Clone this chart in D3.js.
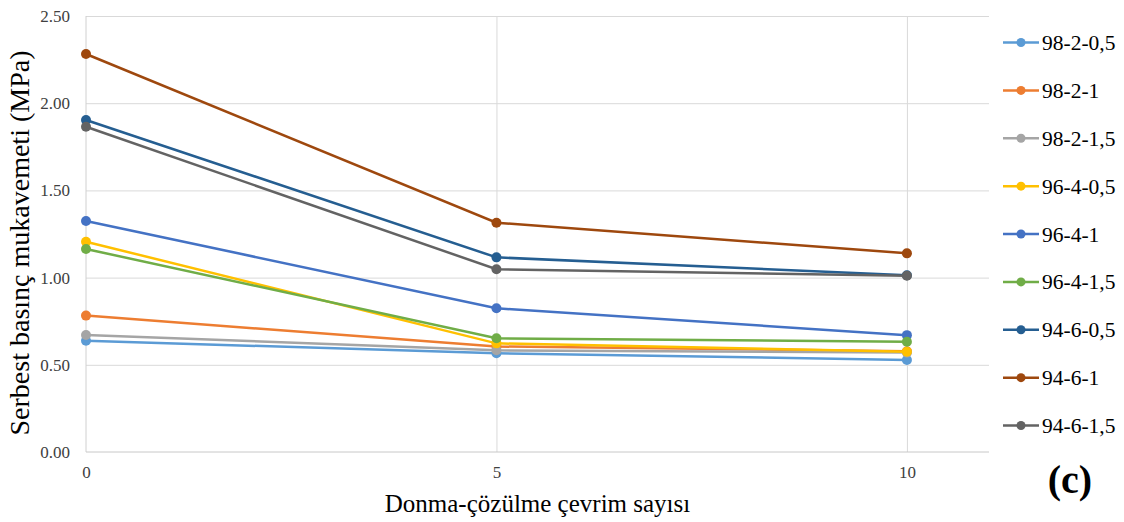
<!DOCTYPE html>
<html>
<head>
<meta charset="utf-8">
<script src="https://cdn.jsdelivr.net/npm/d3@7"></script>
<style>
  body { margin: 0; background: #fff; }
  svg { display: block; }
  text { font-family: 'Liberation Serif', 'Times New Roman', serif; fill: #000; }
  .grid line { stroke: #d9d9d9; stroke-width: 1; }
  .grid path { display: none; }
  .tick text { font-size: 17px; fill: #404040; }
</style>
</head>
<body>
<div id="chart"></div>
<script>
'use strict';
// Freeze-thaw cycles on x, unconfined compressive strength on y
const cycles = [0, 5, 10]
const seriesNames = ['98-2-0,5', '98-2-1', '98-2-1,5', '96-4-0,5', '96-4-1', '96-4-1,5', '94-6-0,5', '94-6-1', '94-6-1,5']
const seriesColors = ['#5b9bd5', '#ed7d31', '#a5a5a5', '#ffc000', '#4472c4', '#70ad47', '#255e91', '#9e480e', '#636363']
const s98_2_05 = [0.638, 0.566, 0.528]
const s98_2_1 = [0.782, 0.605, 0.578]
const s98_2_15 = [0.671, 0.583, 0.570]
const s96_4_05 = [1.206, 0.623, 0.575]
const s96_4_1 = [1.325, 0.824, 0.670]
const s96_4_15 = [1.164, 0.652, 0.632]
const s94_6_05 = [1.904, 1.116, 1.013]
const s94_6_1 = [2.282, 1.315, 1.139]
const s94_6_15 = [1.865, 1.048, 1.011]
const seriesValues = [s98_2_05, s98_2_1, s98_2_15, s96_4_05, s96_4_1, s96_4_15, s94_6_05, s94_6_1, s94_6_15]
const yTicks = [0, 0.5, 1, 1.5, 2, 2.5]
const xTicks = [0, 5, 10]

const W = 1124, H = 522
const plot = { left: 86, right: 989, top: 16, bottom: 452 }

const svg = d3.select('#chart').append('svg')
    .attr('width', W)
    .attr('height', H)

const x = d3.scaleLinear().domain([0, 11]).range([plot.left, plot.right])
const y = d3.scaleLinear().domain([0, 2.5]).range([plot.bottom, plot.top])

svg.append('g') // horizontal gridlines
    .attr('class', 'grid')
    .attr('transform', `translate(${plot.left},0)`)
    .call(d3.axisLeft(y).tickValues(yTicks.slice(1)).tickSize(-(plot.right - plot.left)).tickFormat(''))
svg.append('g') // vertical gridlines
    .attr('class', 'grid')
    .attr('transform', `translate(0,${plot.top})`)
    .call(d3.axisTop(x).tickValues(xTicks.slice(1)).tickSize(-(plot.bottom - plot.top)).tickFormat(''))

svg.append('line') // y axis line
    .attr('x1', plot.left).attr('x2', plot.left)
    .attr('y1', plot.top).attr('y2', plot.bottom)
    .attr('stroke', '#d0d0d0')
svg.append('line') // x axis line
    .attr('x1', plot.left).attr('x2', plot.right)
    .attr('y1', plot.bottom).attr('y2', plot.bottom)
    .attr('stroke', '#c8c8c8')

const yAxis = svg.append('g')
    .attr('transform', `translate(${plot.left},0)`)
    .call(d3.axisLeft(y).tickValues(yTicks).tickSize(0).tickPadding(16).tickFormat(d3.format('.2f')))
yAxis.select('.domain').remove()

const xAxis = svg.append('g')
    .attr('transform', `translate(0,${plot.bottom})`)
    .call(d3.axisBottom(x).tickValues(xTicks).tickSize(0).tickPadding(14).tickFormat(d3.format('d')))
xAxis.select('.domain').remove()

const line = d3.line()
    .x(function(d, i) { return x(cycles[i]) })
    .y(function(d) { return y(d) })

seriesValues.forEach(function(vals, k) {
    const g = svg.append('g')
    g.append('path').datum(vals)
        .attr('fill', 'none')
        .attr('stroke', seriesColors[k])
        .attr('stroke-width', 2.5)
        .attr('d', line)
    g.selectAll('circle').data(vals).enter().append('circle')
        .attr('cx', function(d, i) { return x(cycles[i]) })
        .attr('cy', function(d) { return y(d) })
        .attr('r', 5)
        .attr('fill', seriesColors[k])
})

// Legend
const legend = svg.append('g')
const legendY = d3.scaleLinear().domain([0, seriesNames.length - 1]).range([42.5, 425.5])
seriesNames.forEach(function(name, k) {
    const ly = legendY(k)
    legend.append('line')
        .attr('x1', 1003).attr('x2', 1039)
        .attr('y1', ly).attr('y2', ly)
        .attr('stroke', seriesColors[k])
        .attr('stroke-width', 2.5)
    legend.append('circle')
        .attr('cx', 1021).attr('cy', ly).attr('r', 4.5)
        .attr('fill', seriesColors[k])
    legend.append('text')
        .attr('x', 1042).attr('y', ly)
        .attr('dy', '0.35em')
        .style('font-size', '21.5px')
        .text(name)
})

svg.append('text') // x axis title
    .attr('x', (plot.left + plot.right) / 2)
    .attr('y', 512)
    .attr('text-anchor', 'middle')
    .style('font-size', '25px')
    .text('Donma-çözülme çevrim sayısı')
svg.append('text') // y axis title
    .attr('transform', `translate(29, ${(plot.top + plot.bottom) / 2 + 9}) rotate(-90)`)
    .attr('text-anchor', 'middle')
    .style('font-size', '28px')
    .text('Serbest basınç mukavemeti (MPa)')
svg.append('text') // panel label
    .attr('x', 1070).attr('y', 493)
    .attr('text-anchor', 'middle')
    .style('font-size', '40px')
    .style('font-weight', 'bold')
    .text('(c)')
</script>
</body>
</html>
